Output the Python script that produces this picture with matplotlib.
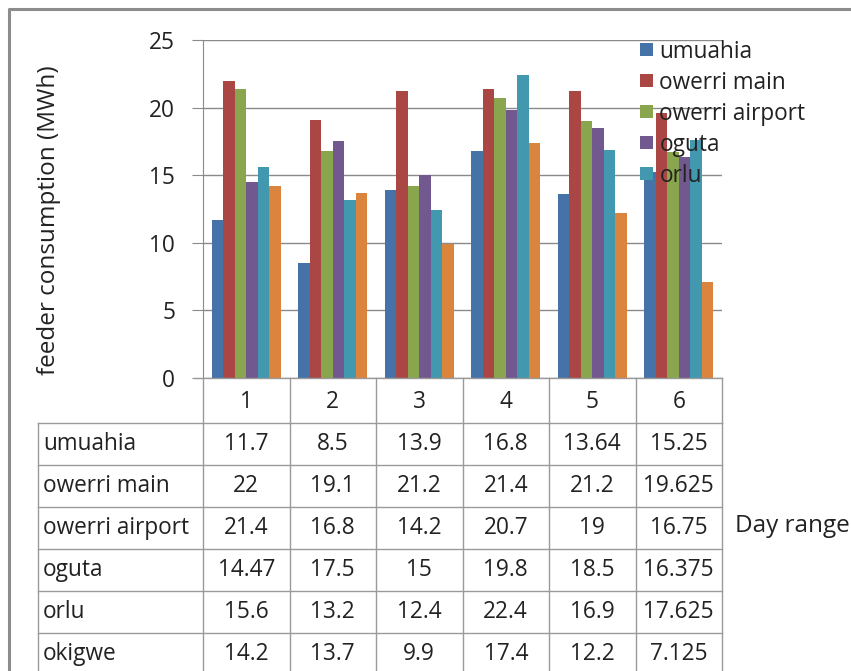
import matplotlib
matplotlib.use("Agg")
import matplotlib.pyplot as plt
from matplotlib.patches import Patch
from matplotlib.lines import Line2D
import numpy as np

plt.rcParams['font.family'] = ['Open Sans', 'DejaVu Sans']

days = ["1", "2", "3", "4", "5", "6"]
series_names = ["umuahia", "owerri main", "owerri airport", "oguta", "orlu", "okigwe"]
umuahia = [11.7, 8.5, 13.9, 16.8, 13.64, 15.25]
owerri_main = [22, 19.1, 21.2, 21.4, 21.2, 19.625]
owerri_airport = [21.4, 16.8, 14.2, 20.7, 19, 16.75]
oguta = [14.47, 17.5, 15, 19.8, 18.5, 16.375]
orlu = [15.6, 13.2, 12.4, 22.4, 16.9, 17.625]
okigwe = [14.2, 13.7, 9.9, 17.4, 12.2, 7.125]
table_text = [
    ["11.7", "8.5", "13.9", "16.8", "13.64", "15.25"],
    ["22", "19.1", "21.2", "21.4", "21.2", "19.625"],
    ["21.4", "16.8", "14.2", "20.7", "19", "16.75"],
    ["14.47", "17.5", "15", "19.8", "18.5", "16.375"],
    ["15.6", "13.2", "12.4", "22.4", "16.9", "17.625"],
    ["14.2", "13.7", "9.9", "17.4", "12.2", "7.125"],
]
all_series = [umuahia, owerri_main, owerri_airport, oguta, orlu, okigwe]
colors = ['#4572A7', '#AA4643', '#89A54E', '#71588F', '#4198AF', '#DB843D']

W, H = 851, 671
fig = plt.figure(figsize=(W / 100, H / 100), dpi=100)
FS = 16.3
FT = 17.5
TC = '#222222'

def fx(px):
    return px / W

def fy(py):
    return 1 - py / H

ax_l, ax_r, ax_t, ax_b = 203, 722, 40, 378
ax = fig.add_axes([fx(ax_l), fy(ax_b), fx(ax_r) - fx(ax_l), fy(ax_t) - fy(ax_b)])

grid_c = '#8a8a8a'
n = len(days)
x = np.arange(n)
bw = 1 / 7.5
for k, (vals, c) in enumerate(zip(all_series, colors)):
    ax.bar(x + (k - 2.5) * bw, vals, width=bw, color=c, zorder=3)

ax.set_xlim(-0.5, n - 0.5)
ax.set_ylim(0, 25)
ax.set_yticks([0, 5, 10, 15, 20, 25])
ax.set_xticks([])
ax.tick_params(axis='y', length=8, color=grid_c, labelsize=FS, pad=12, labelcolor=TC)
ax.yaxis.grid(True, color=grid_c, linewidth=1, zorder=0)
for s in ['top', 'right', 'bottom']:
    ax.spines[s].set_visible(False)
ax.spines['left'].set_color(grid_c)
ax.set_facecolor('none')

fig.text(fx(49), fy(220), "feeder consumption (MWh)", rotation=90, ha='center', va='center',
         fontsize=FT, color=TC)

# table (pixel layout derived from axes data coordinates)
def data_to_px(xd):
    disp = ax.transData.transform((xd, 0))
    return disp[0] * W / fig.bbox.width

col_edges = [data_to_px(i - 0.5) for i in range(n + 1)]
line_c = '#9a9a9a'
header_top, header_bot = 378, 423
row_h = 42
row_tops = [header_bot + i * row_h for i in range(len(series_names) + 1)]
label_l = 38

def hline(y, x0, x1):
    fig.add_artist(Line2D([fx(x0), fx(x1)], [fy(y), fy(y)], color=line_c, lw=1))

def vline(xp, y0, y1):
    fig.add_artist(Line2D([fx(xp), fx(xp)], [fy(y0), fy(y1)], color=line_c, lw=1))

# axis baseline
hline(header_top, 195, col_edges[-1])
for xe in col_edges:
    vline(xe, header_top, header_bot)
for i, d in enumerate(days):
    fig.text(fx((col_edges[i] + col_edges[i + 1]) / 2), fy((header_top + header_bot) / 2 + 1), d,
             ha='center', va='center', fontsize=FS, color=TC)
for yt in row_tops:
    hline(yt, label_l, col_edges[-1])
vline(label_l, header_bot, H + 5)
for xe in col_edges:
    vline(xe, header_bot, H + 5)
for r, name in enumerate(series_names):
    yc = row_tops[r] + row_h / 2
    fig.text(fx(label_l + 5), fy(yc), name, ha='left', va='center', fontsize=FS, color=TC)
    for i in range(n):
        fig.text(fx((col_edges[i] + col_edges[i + 1]) / 2), fy(yc), table_text[r][i],
                 ha='center', va='center', fontsize=FS, color=TC)

fig.text(fx(735), fy(526), "Day range", ha='left', va='center', fontsize=FT, color=TC)

# legend (first five entries visible)
handles = [Patch(facecolor=c) for c in colors[:5]]
leg = fig.legend(handles, series_names[:5], loc='upper left', bbox_to_anchor=(fx(631), fy(30.5)),
                 frameon=False, fontsize=FS, handlelength=0.55, handleheight=0.55,
                 handletextpad=0.3, labelspacing=0.31, borderaxespad=0)
for t in leg.get_texts():
    t.set_color(TC)

# outer border
fig.add_artist(Line2D([fx(9), fx(9), fx(W + 5)], [fy(H + 5), fy(9), fy(9)], color='#8c8c8c', lw=2.2))

fig.savefig("out.png", dpi=100)
